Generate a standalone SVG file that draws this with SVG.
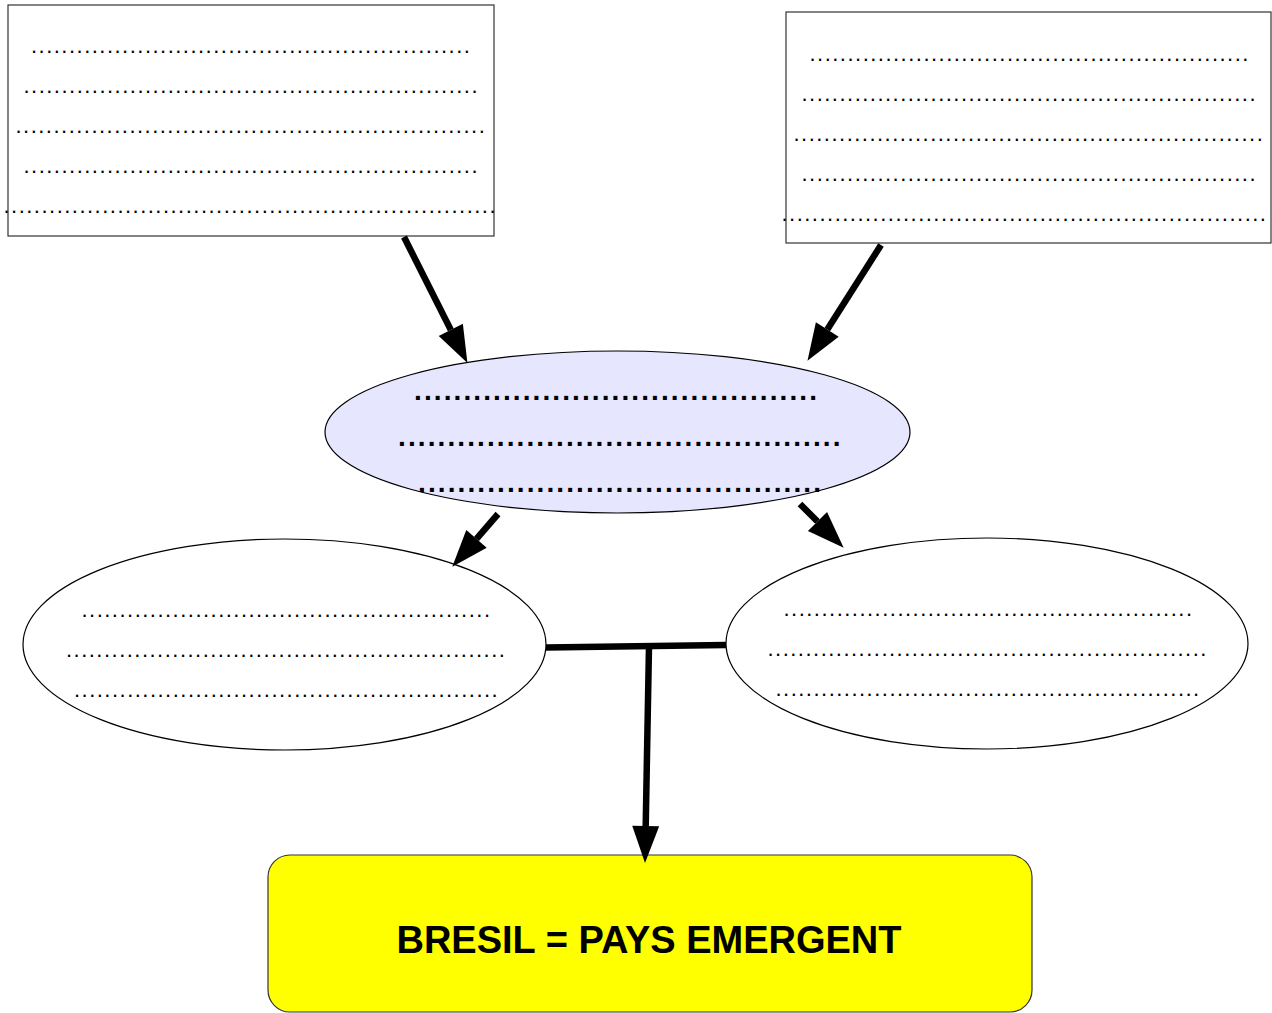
<svg xmlns="http://www.w3.org/2000/svg" width="1272" height="1013" viewBox="0 0 1272 1013">
<style>
.box{fill:#ffffff;stroke:#333333;stroke-width:1.2}
.ell{fill:#ffffff;stroke:#000000;stroke-width:1.2}
.ellc{fill:#e6e6ff;stroke:#000000;stroke-width:1.2}
.dots{font-family:"Liberation Sans",Arial,sans-serif;font-size:22px;letter-spacing:1.48px;fill:#000000}
.bdots{font-family:"Liberation Sans",Arial,sans-serif;font-size:28px;font-weight:bold;letter-spacing:2.1px;fill:#000000}
.title{font-family:"Liberation Sans",Arial,sans-serif;font-size:38px;font-weight:bold;fill:#000000;text-anchor:middle}
.conn{stroke:#000000;stroke-width:6.5;fill:none}
</style>
<defs>
<marker id="ah" markerUnits="userSpaceOnUse" viewBox="0 -15 40 30" markerWidth="40" markerHeight="30" refX="0" refY="0" orient="auto" overflow="visible">
<path d="M0,-13.5 L37,0 L0,13.5 z" fill="#000000"/>
</marker>
</defs>
<rect width="1272" height="1013" fill="#ffffff"/>
<g id="box-top-left">
<rect class="box" x="8" y="5" width="486" height="231"/>
<text class="dots" x="31" y="53">..........................................................</text>
<text class="dots" x="23.5" y="93">............................................................</text>
<text class="dots" x="15.5" y="133">..............................................................</text>
<text class="dots" x="23.5" y="173">............................................................</text>
<text class="dots" x="3.5" y="213">.................................................................</text>
</g>
<g id="box-top-right">
<rect class="box" x="786" y="12" width="485" height="231"/>
<text class="dots" x="809.5" y="60.5">..........................................................</text>
<text class="dots" x="801.5" y="100.5">............................................................</text>
<text class="dots" x="793.5" y="140.5">..............................................................</text>
<text class="dots" x="801.5" y="180.5">............................................................</text>
<text class="dots" x="781.5" y="220.5">................................................................</text>
</g>
<g id="ellipse-center">
<ellipse class="ellc" cx="617.5" cy="432" rx="292.5" ry="81"/>
<text class="bdots" x="414" y="400">.........................................</text>
<text class="bdots" x="398" y="446">.............................................</text>
<text class="bdots" x="418" y="492">.........................................</text>
</g>
<g id="ellipse-left">
<ellipse class="ell" cx="284.5" cy="644.5" rx="261.5" ry="105.5"/>
<text class="dots" x="81.5" y="617">......................................................</text>
<text class="dots" x="66" y="657">..........................................................</text>
<text class="dots" x="74" y="697">........................................................</text>
</g>
<g id="ellipse-right">
<ellipse class="ell" cx="987" cy="643.5" rx="261" ry="105.5"/>
<text class="dots" x="783.5" y="616">......................................................</text>
<text class="dots" x="767.5" y="656">..........................................................</text>
<text class="dots" x="775.5" y="695.5">........................................................</text>
</g>
<g id="box-bottom">
<rect x="268" y="855" width="764" height="157" rx="22" ry="22" fill="#ffff00" stroke="#333333" stroke-width="1.2"/>
<text class="title" x="649" y="953">BRESIL = PAYS EMERGENT</text>
</g>
<g id="connectors">
<line class="conn" x1="404" y1="237" x2="450.8" y2="329.9" marker-end="url(#ah)"/>
<line class="conn" x1="881" y1="245" x2="827.3" y2="329.6" marker-end="url(#ah)"/>
<line class="conn" x1="498" y1="514" x2="476.5" y2="538.8" marker-end="url(#ah)"/>
<line class="conn" x1="800" y1="504" x2="817.5" y2="521.5" marker-end="url(#ah)"/>
<line class="conn" x1="546" y1="647.5" x2="726" y2="645" stroke-width="7"/>
<line class="conn" x1="649" y1="646" x2="645.7" y2="826" marker-end="url(#ah)"/>
</g>
</svg>
